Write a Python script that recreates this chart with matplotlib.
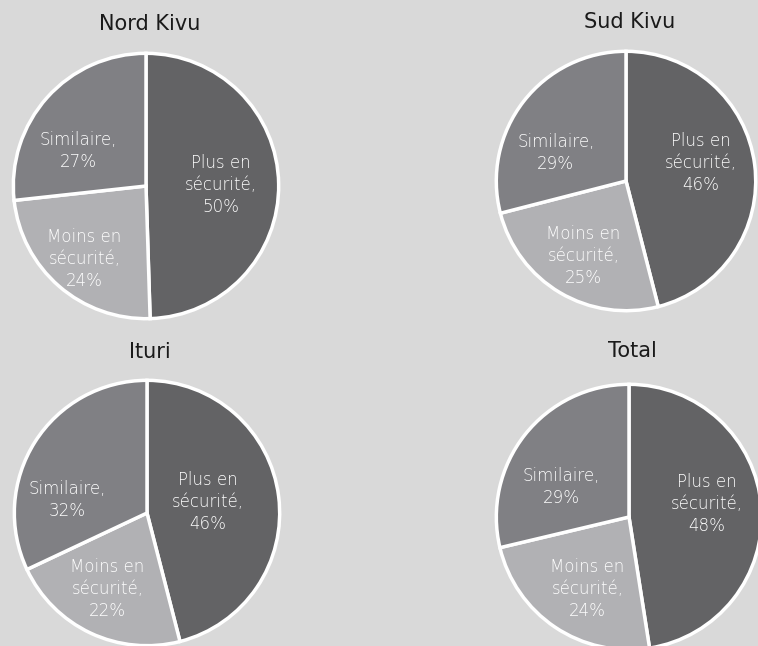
import matplotlib
matplotlib.use("Agg")
import matplotlib.pyplot as plt
import numpy as np

# données
regions = ["Nord Kivu", "Sud Kivu", "Ituri", "Total"]
categories = ["Plus en\nsécurité,", "Moins en\nsécurité,", "Similaire,"]
nord_kivu = [50, 24, 27]
sud_kivu = [46, 25, 29]
ituri = [46, 22, 32]
total = [48, 24, 29]
series = [nord_kivu, sud_kivu, ituri, total]

colors = ["#636365", "#b1b1b4", "#808084"]

W, H = 758, 646
# centre (px), rayon (px), centre du titre (px)
layout = [
    ((146, 186), 134, (150, 24)),
    ((626, 181), 131, (630, 22)),
    ((147, 513), 134, (150, 352)),
    ((629, 517), 134, (632, 351)),
]
# décalage des étiquettes par rapport au centre (px) : plus, moins, similaire
label_offsets = [
    [(76, -1), (-62, 74), (-68, -35)],
    [(76, -18), (-43, 76), (-71, -28)],
    [(61, -11), (-40, 77), (-81, -13)],
    [(79, -13), (-42, 73), (-68, -30)],
]

plt.rcParams['font.family'] = ['DejaVu Sans']

fig = plt.figure(figsize=(W / 100, H / 100), dpi=100)
fig.patch.set_facecolor("#d9d9d9")

for name, vals, ((cx, cy), r, (tx, ty)), offs in zip(regions, series, layout, label_offsets):
    ax = fig.add_axes([(cx - r) / W, 1 - (cy + r) / H, 2 * r / W, 2 * r / H])
    wedges, _ = ax.pie(vals, colors=colors, startangle=90, counterclock=False,
                       wedgeprops=dict(edgecolor="white", linewidth=2.5))
    for cat, v, (dx, dy) in zip(categories, vals, offs):
        ax.text(dx / r, -dy / r, f"{cat}\n{v}%",
                ha="center", va="center", color="white", fontsize=12,
                fontweight="light", linespacing=1.3)
    ax.set_xlim(-1.01, 1.01)
    ax.set_ylim(-1.01, 1.01)
    ax.set_aspect("equal")
    ax.axis("off")
    fig.text(tx / W, 1 - ty / H, name, ha="center", va="center",
             fontsize=15, color="#1a1a1a")

fig.savefig("out.png", dpi=100, facecolor=fig.get_facecolor())
